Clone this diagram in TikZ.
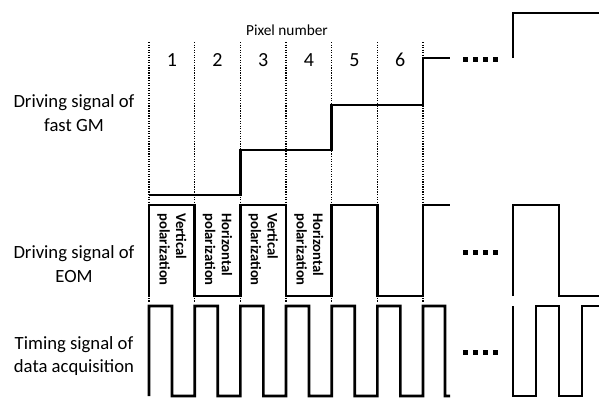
\documentclass[tikz,border=0pt]{standalone}
\usepackage{fontspec}
\setmainfont{Carlito}
\begin{document}
\begin{tikzpicture}[
  x=0.75pt, y=-0.75pt,
  every node/.style={font=\fontsize{14}{17.5}\selectfont, align=center, inner sep=0pt},
  signal/.style={line width=2pt, line join=miter},
  pixelsep/.style={densely dotted, line width=0.9pt},
  polnode/.style={font=\bfseries\fontsize{11}{12.5}\selectfont, align=left, rotate=-90, anchor=west},
  pixnum/.style={font=\fontsize{15}{18}\selectfont},
  moredots/.style={line width=3.75pt, dash pattern=on 3.75pt off 3.75pt}
]
\useasboundingbox (0,0) rectangle (599,397);

% pixel boundaries
\foreach \i in {0,...,6}
  \draw[pixelsep] ({149+\i*45.67},42) -- ({149+\i*45.67},302);

\node[font=\fontsize{11.5}{14}\selectfont] (pixlabel) at (287,30) {Pixel number};
\foreach \i in {1,...,6}
  \node[pixnum] (p\i) at ({149+(\i-0.5)*45.67},60) {\i};

% row labels
\node (gmlabel) at (74,113) {Driving signal of\\fast GM};
\node (eomlabel) at (74,264) {Driving signal of\\EOM};
\node (daqlabel) at (74,356) {Timing signal of\\data acquisition};

% fast GM
\draw[signal] (149,195) -- (240.3,195) -- (240.3,150) -- (331.7,150) -- (331.7,105)
  -- (423,105) -- (423,58) -- (450,58);
\draw[signal] (513,58) -- (513,13) -- (600,13);

% EOM
\draw[signal] (149,296) -- (149,205) -- (194.7,205) -- (194.7,296) -- (240.3,296)
  -- (240.3,205) -- (286,205) -- (286,296) -- (331.7,296) -- (331.7,205)
  -- (377.3,205) -- (377.3,296) -- (423,296) -- (423,205) -- (450,205);
\draw[signal] (513,296) -- (513,205) -- (559,205) -- (559,296) -- (600,296);

\node[polnode] (pol1) at ({149+0.5*45.67},213) {Vertical\\polarization};
\node[polnode] (pol2) at ({149+1.5*45.67},213) {Horizontal\\polarization};
\node[polnode] (pol3) at ({149+2.5*45.67},213) {Vertical\\polarization};
\node[polnode] (pol4) at ({149+3.5*45.67},213) {Horizontal\\polarization};

% data acquisition
\draw[signal] (149,396) \foreach \i in {0,...,5} {
    -- ({149+\i*45.67},306) -- ({172+\i*45.67},306) -- ({172+\i*45.67},396)
    -- ({149+(\i+1)*45.67},396) }
  -- (423,306) -- (445,306) -- (445,396) -- (450,396);
\draw[signal] (513,306) -- (513,396) -- (536,396) -- (536,306) -- (559,306)
  -- (559,396) -- (582,396) -- (582,306) -- (600,306);

% continuation marks
\foreach \y in {59,252,352}
  \draw[moredots] (463,\y) -- (499,\y);
\end{tikzpicture}
\end{document}
